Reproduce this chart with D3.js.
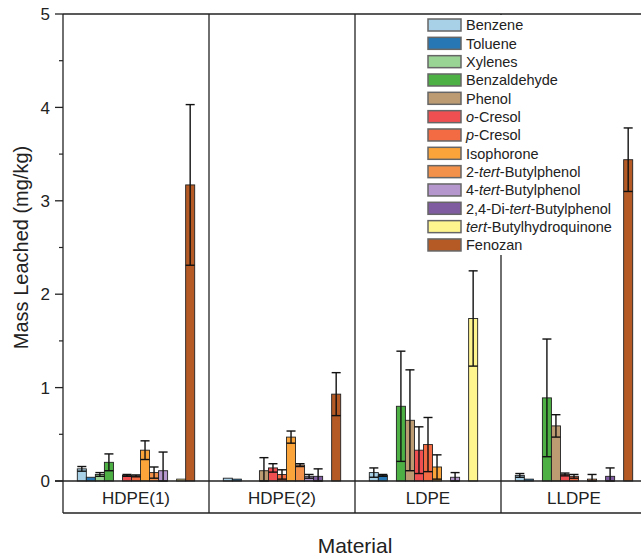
<!DOCTYPE html>
<html>
<head>
<meta charset="utf-8">
<script src="https://cdn.jsdelivr.net/npm/d3@7/dist/d3.min.js"></script>
<style>
  body { margin: 0; background: #fff; }
  svg { display: block; font-family: "Liberation Sans", Arial, sans-serif; }
</style>
</head>
<body>
<div id="chart"></div>
<script>
var materials = ['HDPE(1)', 'HDPE(2)', 'LDPE', 'LLDPE'];

var compounds = ['Benzene', 'Toluene', 'Xylenes', 'Benzaldehyde', 'Phenol', 'o-Cresol',
  'p-Cresol', 'Isophorone', '2-tert-Butylphenol', '4-tert-Butylphenol',
  '2,4-Di-tert-Butylphenol', 'tert-Butylhydroquinone', 'Fenozan'];

var colors = ['#a8d0e6', '#2677b4', '#9ad495', '#4cb045', '#bc9b72', '#f04f52',
  '#f26b42', '#fba43a', '#f3904a', '#b597cd', '#7f5ba0', '#fff58f', '#b55a25'];

// mean mass leached (mg/kg), one row per material, in compound order
var means = [
  [0.13, 0.04, 0.07, 0.20, 0, 0.06, 0.055, 0.33, 0.09, 0.11, 0, 0.02, 3.17],
  [0.03, 0.02, 0, 0, 0.11, 0.14, 0.07, 0.47, 0.17, 0.05, 0.05, 0, 0.93],
  [0.09, 0.06, 0, 0.80, 0.65, 0.33, 0.39, 0.15, 0, 0.04, 0, 1.74, 0],
  [0.06, 0.02, 0, 0.89, 0.59, 0.07, 0.05, 0, 0.02, 0, 0.05, 0, 3.44]
];

// standard deviations
var errors = [
  [0.025, 0, 0.02, 0.09, 0, 0.01, 0.01, 0.10, 0.06, 0.20, 0, 0, 0.86],
  [0, 0, 0, 0, 0.14, 0.045, 0.05, 0.065, 0.015, 0.02, 0.08, 0, 0.23],
  [0.05, 0.01, 0, 0.59, 0.54, 0.25, 0.29, 0.13, 0, 0.05, 0, 0.51, 0],
  [0.02, 0, 0, 0.63, 0.12, 0.015, 0.02, 0, 0.05, 0, 0.09, 0, 0.34]
];

var yTicks = [0, 1, 2, 3, 4, 5];

var width = 641, height = 560;
var padL = 63, padR = 647, padT = 14, padB = 481, catBottom = 513;

var svg = d3.select('#chart').append('svg')
    .attr('width', width)
    .attr('height', height);

var x0 = d3.scaleBand().domain(materials).range([padL, padR]).padding(0);
var x1 = d3.scaleBand().domain(compounds)
    .range([x0.bandwidth() * 0.098, x0.bandwidth() * 0.902]).padding(0);
var y = d3.scaleLinear().domain([0, 5]).range([padB, padT]);

var rows = [];
materials.forEach(function(m, i) {
  compounds.forEach(function(c, j) {
    rows.push({material: m, compound: c, value: means[i][j], err: errors[i][j], color: colors[j]});
  });
});

// frame and separators
var frame = svg.append('g').attr('class', 'frame')
    .attr('stroke', '#222').attr('stroke-width', 1.3).attr('fill', 'none');

frame.append('line').attr('x1', padL).attr('x2', padR).attr('y1', padT).attr('y2', padT);
frame.append('line').attr('x1', padL).attr('x2', padL).attr('y1', padT).attr('y2', catBottom);
frame.append('line').attr('x1', padL).attr('x2', padR).attr('y1', catBottom).attr('y2', catBottom);
materials.slice(1).forEach(function(m) {
  frame.append('line').attr('x1', x0(m)).attr('x2', x0(m)).attr('y1', padT).attr('y2', catBottom);
});

// y axis ticks
var yAxis = svg.append('g').attr('class', 'y-axis');
var minor = d3.range(0.5, 5, 1);
yAxis.selectAll('line.minor').data(minor).enter().append('line')
    .attr('class', 'minor')
    .attr('x1', padL - 4).attr('x2', padL)
    .attr('y1', function(d) { return y(d); }).attr('y2', function(d) { return y(d); })
    .attr('stroke', '#222').attr('stroke-width', 1.2);
yAxis.selectAll('line.major').data(yTicks).enter().append('line')
    .attr('class', 'major')
    .attr('x1', padL - 8).attr('x2', padL)
    .attr('y1', function(d) { return y(d); }).attr('y2', function(d) { return y(d); })
    .attr('stroke', '#222').attr('stroke-width', 1.3);
yAxis.selectAll('text').data(yTicks).enter().append('text')
    .attr('x', padL - 13)
    .attr('y', function(d) { return y(d); })
    .attr('dy', '0.36em')
    .attr('text-anchor', 'end')
    .attr('font-size', 17)
    .attr('fill', '#222')
    .text(function(d) { return d; });

// legend backing (hides the LLDPE separator behind the legend)
var italicPart = {
  'o-Cresol': ['', 'o', '-Cresol'],
  'p-Cresol': ['', 'p', '-Cresol'],
  '2-tert-Butylphenol': ['2-', 'tert', '-Butylphenol'],
  '4-tert-Butylphenol': ['4-', 'tert', '-Butylphenol'],
  '2,4-Di-tert-Butylphenol': ['2,4-Di-', 'tert', '-Butylphenol'],
  'tert-Butylhydroquinone': ['', 'tert', '-Butylhydroquinone']
};

var legend = svg.append('g').attr('class', 'legend');
legend.append('rect')
    .attr('x', 424).attr('y', padT + 1)
    .attr('width', 196).attr('height', 240)
    .attr('fill', '#fff');

// bars
var bars = svg.append('g').attr('class', 'bars');
bars.selectAll('rect').data(rows.filter(function(d) { return d.value > 0; })).enter().append('rect')
    .attr('x', function(d) { return x0(d.material) + x1(d.compound); })
    .attr('y', function(d) { return y(d.value); })
    .attr('width', x1.bandwidth())
    .attr('height', function(d) { return y(0) - y(d.value); })
    .attr('fill', function(d) { return d.color; })
    .attr('stroke', '#222')
    .attr('stroke-width', 0.9);

// error bars
var errG = svg.append('g').attr('class', 'errors')
    .attr('stroke', '#111').attr('stroke-width', 1.4).attr('fill', 'none');
var errRows = rows.filter(function(d) { return d.value > 0 && d.err > 0; });
var cap = x1.bandwidth() * 0.5;
errRows.forEach(function(d) {
  var cx = x0(d.material) + x1(d.compound) + x1.bandwidth() / 2;
  var hi = y(d.value + d.err), lo = y(Math.max(0, d.value - d.err));
  errG.append('line').attr('x1', cx).attr('x2', cx).attr('y1', hi).attr('y2', lo);
  errG.append('line').attr('x1', cx - cap).attr('x2', cx + cap).attr('y1', hi).attr('y2', hi);
  errG.append('line').attr('x1', cx - cap).attr('x2', cx + cap).attr('y1', lo).attr('y2', lo);
});

// zero line on top of bars
svg.append('line')
    .attr('x1', padL - 8).attr('x2', padR)
    .attr('y1', y(0)).attr('y2', y(0))
    .attr('stroke', '#222').attr('stroke-width', 1.3);

// category labels
svg.append('g').selectAll('text').data(materials).enter().append('text')
    .attr('x', function(d) { return x0(d) + x0.bandwidth() / 2; })
    .attr('y', 504)
    .attr('text-anchor', 'middle')
    .attr('font-size', 17)
    .attr('fill', '#222')
    .text(function(d) { return d; });

// axis titles
svg.append('text')
    .attr('x', (padL + padR) / 2)
    .attr('y', 553)
    .attr('text-anchor', 'middle')
    .attr('font-size', 21)
    .attr('fill', '#222')
    .text('Material');

svg.append('text')
    .attr('transform', 'translate(28,' + ((padT + padB) / 2) + ') rotate(-90)')
    .attr('text-anchor', 'middle')
    .attr('font-size', 20)
    .attr('fill', '#222')
    .text('Mass Leached (mg/kg)');

// legend entries
var item = legend.selectAll('g').data(compounds).enter().append('g')
    .attr('transform', function(d, i) { return 'translate(428,' + (25 + i * 18.33) + ')'; });

item.append('rect')
    .attr('x', 0).attr('y', -6)
    .attr('width', 33).attr('height', 12)
    .attr('fill', function(d, i) { return colors[i]; })
    .attr('stroke', '#666').attr('stroke-width', 1.5);

item.append('text')
    .attr('x', 38)
    .attr('dy', '0.36em')
    .attr('font-size', 14.5)
    .attr('fill', '#222')
    .each(function(d) {
      var t = d3.select(this);
      var parts = italicPart[d];
      if (!parts) { t.text(d); return; }
      t.append('tspan').text(parts[0]);
      t.append('tspan').attr('font-style', 'italic').text(parts[1]);
      t.append('tspan').text(parts[2]);
    });
</script>
</body>
</html>
